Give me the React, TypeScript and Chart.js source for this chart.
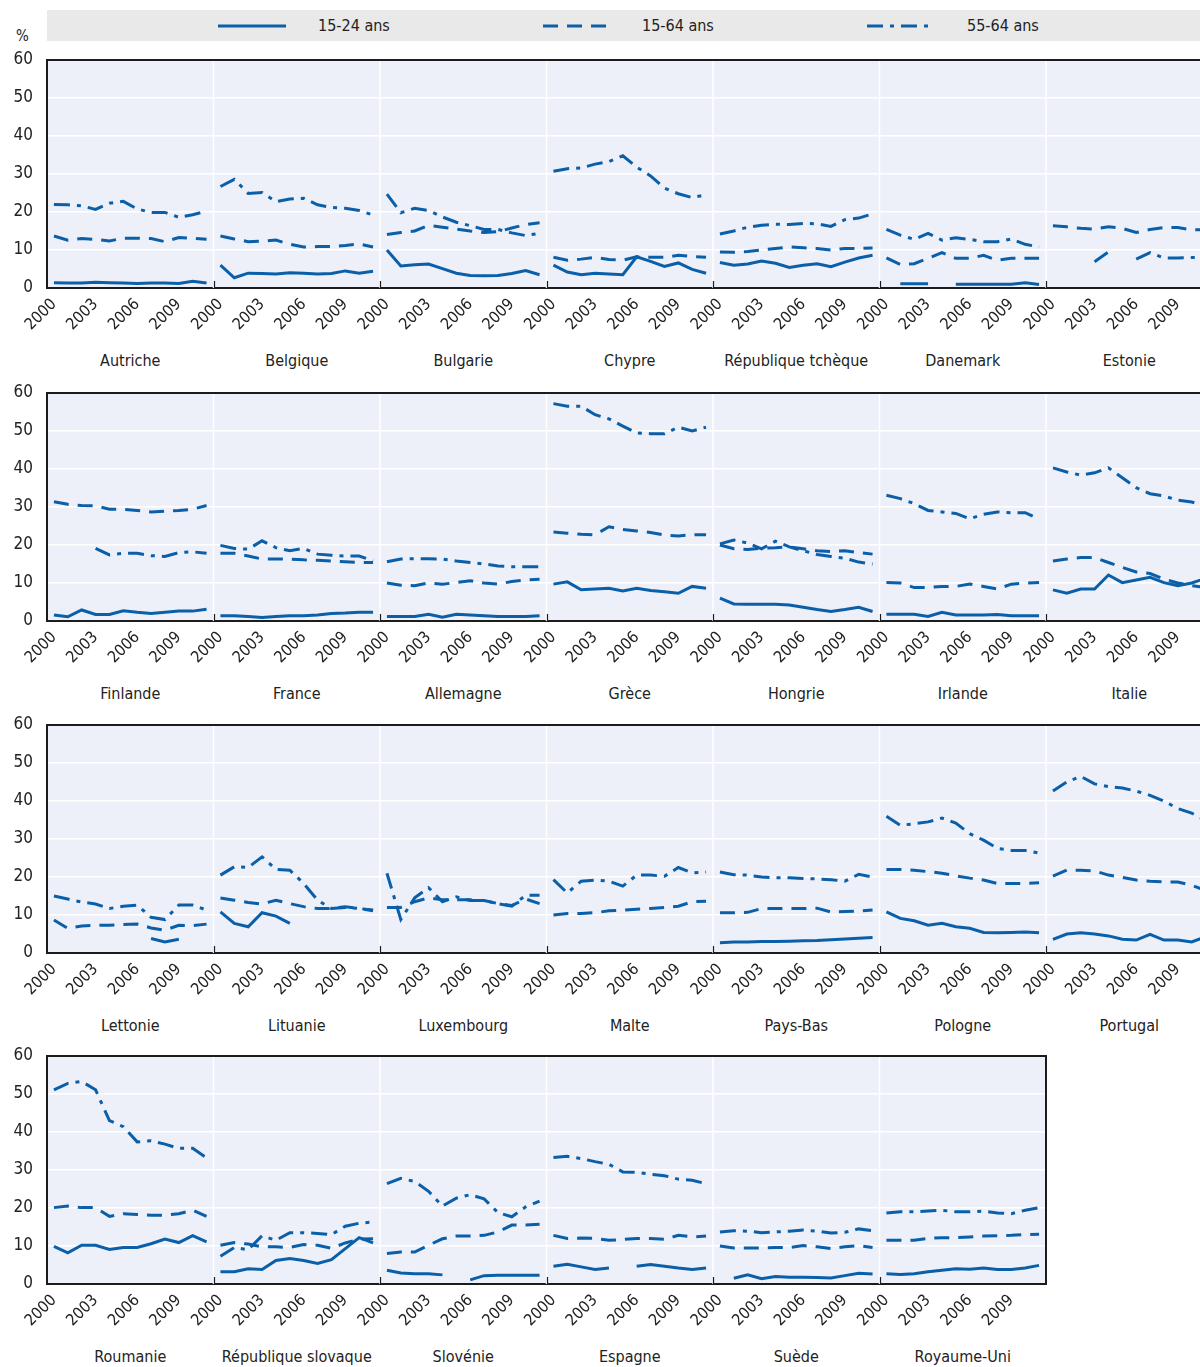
import React, { useEffect, useRef } from "react";
import { Chart, registerables } from "chart.js";

Chart.register(...registerables);

// ---------- data ----------
const YEARS = ["2000", "2001", "2002", "2003", "2004", "2005", "2006", "2007", "2008", "2009", "2010", "2011"];
const TICK_YEARS = ["2000", "2003", "2006", "2009"];
const SERIES_LABELS = ["15-24 ans", "15-64 ans", "55-64 ans"];
const Y_TICKS = [0, 10, 20, 30, 40, 50, 60];
const N = null;

const AUT_1524 = [1.4, 1.3, 1.3, 1.5, 1.4, 1.3, 1.2, 1.3, 1.3, 1.2, 1.8, 1.3];
const AUT_1564 = [13.7, 12.6, 13.0, 12.8, 12.4, 13.1, 13.1, 13.0, 12.2, 13.3, 13.1, 12.8];
const AUT_5564 = [22.0, 21.9, 21.6, 20.7, 22.3, 22.8, 20.8, 19.9, 19.9, 18.6, 19.3, 20.2];

const BEL_1524 = [6.0, 2.7, 3.9, 3.8, 3.7, 4.0, 3.9, 3.7, 3.8, 4.5, 3.9, 4.4];
const BEL_1564 = [13.7, 12.9, 12.2, 12.3, 12.6, 11.5, 10.8, 10.9, 10.9, 11.2, 11.6, 10.8];
const BEL_5564 = [26.7, 28.6, 24.9, 25.1, 22.7, 23.4, 23.6, 21.9, 21.2, 21.0, 20.4, 19.2];

const BGR_1524 = [10.0, 5.8, 6.1, 6.3, 5.1, 3.9, 3.3, 3.2, 3.3, 3.8, 4.6, 3.5];
const BGR_1564 = [14.1, 14.6, 15.0, 16.5, 16.0, 15.5, 15.0, 14.6, 14.8, 15.8, 16.7, 17.2];
const BGR_5564 = [24.7, 19.8, 21.0, 20.4, 18.7, 17.3, 16.4, 15.4, 15.4, 14.5, 13.8, 14.4];

const CYP_1524 = [6.0, 4.2, 3.5, 3.9, 3.7, 3.5, 8.2, 7.0, 5.7, 6.6, 4.9, 3.9];
const CYP_1564 = [8.1, 7.3, 7.6, 8.1, 7.5, 7.3, 8.2, 8.1, 8.1, 8.6, 8.3, 8.1];
const CYP_5564 = [30.7, 31.4, 31.6, 32.6, 33.3, 34.8, 31.8, 29.5, 26.3, 24.8, 23.8, 24.5];

const CZE_1524 = [6.7, 6.0, 6.3, 7.1, 6.5, 5.4, 6.0, 6.4, 5.6, 6.8, 7.9, 8.6];
const CZE_1564 = [9.5, 9.4, 9.6, 10.0, 10.4, 10.8, 10.6, 10.4, 10.0, 10.4, 10.4, 10.5];
const CZE_5564 = [14.2, 15.0, 16.0, 16.5, 16.8, 16.7, 17.0, 16.9, 16.2, 18.0, 18.4, 19.5];

const DNK_1524 = [N, 1.1, 1.1, 1.1, N, 1.0, 1.0, 1.0, 1.0, 1.0, 1.4, 0.9];
const DNK_1564 = [7.9, 6.2, 6.4, 7.8, 9.3, 7.8, 7.8, 8.6, 7.3, 7.8, 7.8, 7.8];
const DNK_5564 = [15.4, 13.9, 12.8, 14.4, 12.6, 13.2, 12.8, 12.2, 12.2, 12.9, 11.5, 10.8];

const EST_1524 = [N, N, N, N, N, N, N, N, N, N, N, N];
const EST_1564 = [16.4, 16.1, 15.7, 15.5, 16.1, 15.7, 14.6, 15.4, 15.9, 15.9, 15.3, 15.3];
const EST_5564 = [N, N, N, 6.9, 9.5, N, 7.6, 9.3, 7.9, 7.9, 8.0, 8.0];

const FIN_1524 = [1.6, 1.1, 2.9, 1.7, 1.7, 2.7, 2.3, 2.0, 2.3, 2.6, 2.6, 3.1];
const FIN_1564 = [31.4, 30.7, 30.4, 30.3, 29.4, 29.4, 29.1, 28.7, 28.9, 29.1, 29.4, 30.4];
const FIN_5564 = [N, N, N, 19.1, 17.4, 17.8, 17.8, 17.2, 17.0, 18.0, 18.2, 17.8];

const FRA_1524 = [1.4, 1.4, 1.2, 0.9, 1.2, 1.4, 1.4, 1.6, 2.0, 2.1, 2.3, 2.3];
const FRA_1564 = [17.8, 17.8, 17.1, 16.3, 16.3, 16.3, 16.1, 16.0, 15.8, 15.6, 15.4, 15.4];
const FRA_5564 = [19.9, 19.1, 18.9, 21.1, 19.3, 18.5, 19.1, 17.6, 17.3, 17.1, 17.1, 15.8];

const DEU_1524 = [1.2, 1.2, 1.2, 1.8, 1.0, 1.8, 1.6, 1.4, 1.2, 1.2, 1.2, 1.4];
const DEU_1564 = [10.0, 9.4, 9.3, 10.0, 9.7, 10.1, 10.6, 10.0, 9.7, 10.4, 10.8, 11.0];
const DEU_5564 = [15.6, 16.3, 16.4, 16.4, 16.3, 15.8, 15.4, 15.0, 14.5, 14.3, 14.3, 14.3];

const GRC_1524 = [9.7, 10.3, 8.2, 8.4, 8.6, 7.9, 8.6, 8.0, 7.7, 7.3, 9.1, 8.6];
const GRC_1564 = [23.4, 23.1, 22.8, 22.7, 24.8, 24.1, 23.7, 23.3, 22.6, 22.4, 22.7, 22.7];
const GRC_5564 = [57.2, 56.5, 56.5, 54.3, 53.2, 51.3, 49.5, 49.3, 49.3, 51.0, 50.0, 51.0];

const HUN_1524 = [6.0, 4.5, 4.4, 4.4, 4.4, 4.2, 3.6, 3.0, 2.5, 3.0, 3.6, 2.5];
const HUN_1564 = [20.0, 19.0, 18.8, 19.2, 19.3, 19.5, 19.0, 18.5, 18.3, 18.5, 18.0, 17.6];
const HUN_5564 = [20.3, 21.3, 20.5, 19.0, 21.0, 19.5, 18.5, 17.5, 17.0, 16.5, 15.5, 15.0];

const IRL_1524 = [1.8, 1.8, 1.8, 1.2, 2.3, 1.6, 1.6, 1.6, 1.7, 1.4, 1.4, 1.4];
const IRL_1564 = [10.1, 10.0, 8.8, 8.8, 9.1, 9.1, 9.7, 9.1, 8.4, 9.7, 10.0, 10.1];
const IRL_5564 = [33.1, 32.2, 30.9, 29.1, 28.7, 28.3, 26.9, 28.1, 28.7, 28.5, 28.5, 26.8];

const ITA_1524 = [8.2, 7.3, 8.4, 8.4, 12.1, 10.1, 10.8, 11.5, 10.1, 9.3, 10.0, 11.2];
const ITA_1564 = [15.8, 16.3, 16.7, 16.7, 15.4, 14.1, 12.9, 12.5, 11.0, 10.0, 9.3, 8.8];
const ITA_5564 = [40.3, 39.2, 38.4, 39.0, 40.3, 37.7, 35.1, 33.5, 32.9, 31.8, 31.3, 30.3];

const LVA_1524 = [N, N, N, N, N, N, N, 3.8, 2.9, 3.6, N, N];
const LVA_1564 = [8.7, 6.5, 7.1, 7.3, 7.3, 7.5, 7.6, 6.6, 6.0, 7.3, 7.2, 7.6];
const LVA_5564 = [15.0, 14.2, 13.4, 12.9, 11.7, 12.3, 12.6, 9.4, 8.8, 12.6, 12.6, 11.3];

const LTU_1524 = [10.8, 7.8, 6.9, 10.6, 9.7, 7.8, N, N, N, N, N, N];
const LTU_1564 = [14.5, 13.9, 13.3, 12.9, 13.9, 13.0, 12.2, 11.7, 11.7, 12.2, 11.7, 11.3];
const LTU_5564 = [20.5, 22.7, 22.5, 25.3, 22.0, 21.8, 18.3, 13.9, 11.7, 12.0, 11.7, 11.1];

const LUX_1524 = [N, N, N, N, N, N, N, N, N, N, N, N];
const LUX_1564 = [12.0, 12.0, 13.5, 14.5, 14.0, 14.0, 14.0, 13.8, 13.0, 12.5, 14.2, 13.0];
const LUX_5564 = [21.0, 8.8, 14.5, 17.2, 13.5, 14.8, 13.8, 13.8, 13.0, 12.3, 15.2, 15.2];

const MLT_1524 = [N, N, N, N, N, N, N, N, N, N, N, N];
const MLT_1564 = [10.0, 10.4, 10.4, 10.6, 11.1, 11.3, 11.5, 11.7, 12.0, 12.3, 13.5, 13.6];
const MLT_5564 = [19.3, 15.8, 18.9, 19.2, 18.9, 17.6, 20.5, 20.5, 20.2, 22.5, 21.1, 21.3];

const NLD_1524 = [2.7, 2.9, 2.9, 3.0, 3.0, 3.1, 3.2, 3.3, 3.5, 3.7, 3.9, 4.1];
const NLD_1564 = [10.6, 10.6, 10.7, 11.7, 11.7, 11.7, 11.7, 11.8, 10.8, 10.9, 11.0, 11.3];
const NLD_5564 = [21.3, 20.6, 20.5, 20.0, 19.8, 19.8, 19.6, 19.5, 19.3, 18.9, 20.7, 20.0];

const POL_1524 = [10.8, 9.1, 8.5, 7.3, 7.8, 6.9, 6.5, 5.4, 5.3, 5.4, 5.5, 5.3];
const POL_1564 = [22.0, 22.0, 21.8, 21.4, 21.0, 20.3, 19.7, 19.2, 18.3, 18.3, 18.3, 18.5];
const POL_5564 = [36.0, 33.6, 34.0, 34.5, 35.5, 34.2, 31.4, 29.7, 27.5, 27.0, 27.0, 26.3];

const PRT_1524 = [3.6, 5.0, 5.3, 5.0, 4.5, 3.6, 3.4, 4.9, 3.4, 3.4, 2.9, 4.3];
const PRT_1564 = [20.2, 21.8, 21.8, 21.6, 20.5, 19.9, 19.2, 18.9, 18.7, 18.7, 17.8, 16.5];
const PRT_5564 = [42.6, 45.0, 46.5, 44.5, 43.8, 43.4, 42.6, 41.5, 40.0, 38.0, 36.8, 34.9];

const ROU_1524 = [9.9, 8.2, 10.2, 10.2, 9.1, 9.6, 9.6, 10.6, 11.8, 10.9, 12.7, 11.1];
const ROU_1564 = [20.1, 20.5, 20.1, 20.1, 17.8, 18.5, 18.3, 18.1, 18.1, 18.5, 19.4, 17.8];
const ROU_5564 = [51.1, 52.8, 53.3, 51.1, 43.0, 41.4, 37.4, 37.7, 36.8, 35.7, 35.7, 33.2];

const SVK_1524 = [3.2, 3.2, 4.0, 3.8, 6.2, 6.7, 6.2, 5.4, 6.4, 9.3, 12.2, 10.8];
const SVK_1564 = [10.2, 10.9, 10.5, 9.8, 9.8, 9.6, 10.4, 10.2, 9.4, 10.8, 11.8, 11.9];
const SVK_5564 = [7.3, 9.6, 9.0, 12.7, 11.5, 13.5, 13.5, 13.3, 13.0, 15.2, 16.0, 16.3];

const SVN_1524 = [3.6, 2.9, 2.7, 2.7, 2.4, N, 1.1, 2.2, 2.3, 2.3, 2.3, 2.3];
const SVN_1564 = [8.0, 8.4, 8.4, 10.2, 11.9, 12.6, 12.6, 12.8, 13.7, 15.5, 15.5, 15.7];
const SVN_5564 = [26.4, 27.8, 27.0, 24.4, 20.5, 22.6, 23.5, 22.4, 18.8, 17.7, 20.3, 21.8];

const ESP_1524 = [4.7, 5.2, 4.5, 3.8, 4.2, N, 4.7, 5.1, 4.7, 4.2, 3.8, 4.2];
const ESP_1564 = [12.8, 12.0, 12.1, 12.0, 11.5, 11.7, 12.0, 12.0, 11.8, 12.8, 12.4, 12.6];
const ESP_5564 = [33.3, 33.6, 33.0, 32.2, 31.5, 29.5, 29.4, 28.9, 28.5, 27.6, 27.3, 26.4];

const SWE_1524 = [N, 1.5, 2.4, 1.4, 2.0, 1.8, 1.8, 1.7, 1.6, 2.2, 2.8, 2.6];
const SWE_1564 = [10.0, 9.5, 9.5, 9.5, 9.6, 9.6, 10.1, 9.8, 9.3, 9.8, 10.1, 9.6];
const SWE_5564 = [13.7, 14.0, 13.9, 13.5, 13.7, 13.9, 14.2, 13.9, 13.4, 13.6, 14.5, 14.0];

const GBR_1524 = [2.7, 2.5, 2.7, 3.2, 3.6, 4.0, 3.9, 4.2, 3.8, 3.8, 4.2, 4.9];
const GBR_1564 = [11.5, 11.5, 11.5, 12.0, 12.2, 12.2, 12.4, 12.6, 12.7, 12.8, 13.0, 13.1];
const GBR_5564 = [18.7, 19.0, 19.0, 19.2, 19.4, 19.0, 19.0, 19.2, 18.7, 18.5, 19.4, 20.1];

type Panel = { name: string; series: (number | null)[][] };

const ROWS: Panel[][] = [
  [
    { name: "Autriche", series: [AUT_1524, AUT_1564, AUT_5564] },
    { name: "Belgique", series: [BEL_1524, BEL_1564, BEL_5564] },
    { name: "Bulgarie", series: [BGR_1524, BGR_1564, BGR_5564] },
    { name: "Chypre", series: [CYP_1524, CYP_1564, CYP_5564] },
    { name: "République tchèque", series: [CZE_1524, CZE_1564, CZE_5564] },
    { name: "Danemark", series: [DNK_1524, DNK_1564, DNK_5564] },
    { name: "Estonie", series: [EST_1524, EST_1564, EST_5564] },
  ],
  [
    { name: "Finlande", series: [FIN_1524, FIN_1564, FIN_5564] },
    { name: "France", series: [FRA_1524, FRA_1564, FRA_5564] },
    { name: "Allemagne", series: [DEU_1524, DEU_1564, DEU_5564] },
    { name: "Grèce", series: [GRC_1524, GRC_1564, GRC_5564] },
    { name: "Hongrie", series: [HUN_1524, HUN_1564, HUN_5564] },
    { name: "Irlande", series: [IRL_1524, IRL_1564, IRL_5564] },
    { name: "Italie", series: [ITA_1524, ITA_1564, ITA_5564] },
  ],
  [
    { name: "Lettonie", series: [LVA_1524, LVA_1564, LVA_5564] },
    { name: "Lituanie", series: [LTU_1524, LTU_1564, LTU_5564] },
    { name: "Luxembourg", series: [LUX_1524, LUX_1564, LUX_5564] },
    { name: "Malte", series: [MLT_1524, MLT_1564, MLT_5564] },
    { name: "Pays-Bas", series: [NLD_1524, NLD_1564, NLD_5564] },
    { name: "Pologne", series: [POL_1524, POL_1564, POL_5564] },
    { name: "Portugal", series: [PRT_1524, PRT_1564, PRT_5564] },
  ],
  [
    { name: "Roumanie", series: [ROU_1524, ROU_1564, ROU_5564] },
    { name: "République slovaque", series: [SVK_1524, SVK_1564, SVK_5564] },
    { name: "Slovénie", series: [SVN_1524, SVN_1564, SVN_5564] },
    { name: "Espagne", series: [ESP_1524, ESP_1564, ESP_5564] },
    { name: "Suède", series: [SWE_1524, SWE_1564, SWE_5564] },
    { name: "Royaume-Uni", series: [GBR_1524, GBR_1564, GBR_5564] },
  ],
];

// ---------- styling ----------
const FONT_FAMILY = '"DejaVu Sans Condensed", "Liberation Sans", Arial, sans-serif';
const LINE_COLOR = "#0a5fa8";
const PLOT_BG = "#edf0f9";
const FRAME = "#1c1c1c";
const TEXT = "#222222";
const DASHES = [[], [15, 9], [16, 7, 4, 7]];

const ROW_TOPS = [60, 393, 725, 1056];
const PLOT_H = 228;
const Y_TICK_PAD = 14;
const Y_LINE_H = 22;
const PAD_TOP = Y_LINE_H / 2 + Y_TICK_PAD; // chart.js reserves half label + tick padding above the plot
const XAXIS_H = 62;
const LEFT = 47;
const PANEL_W = 166.5;
const VIEW_W = 1200;
const NY = YEARS.length;

function RowChart({ panels, plotTop }: { panels: Panel[]; plotTop: number }) {
  const ref = useRef<HTMLCanvasElement>(null);

  useEffect(() => {
    if (!ref.current) return;
    const n = panels.length;
    const fullRight = LEFT + n * PANEL_W;
    const rightEdge = Math.min(VIEW_W, fullRight);
    const closed = fullRight <= VIEW_W;
    const padRight = VIEW_W - rightEdge;
    const xMax = ((rightEdge - LEFT) / PANEL_W) * NY;

    const datasets = SERIES_LABELS.map((label, s) => {
      const data: { x: number; y: number | null }[] = [];
      panels.forEach((p, pi) => {
        p.series[s].forEach((v, i) => data.push({ x: pi * NY + i + 0.5, y: v }));
        data.push({ x: pi * NY + NY, y: null });
      });
      return {
        label,
        data,
        borderColor: LINE_COLOR,
        backgroundColor: LINE_COLOR,
        borderWidth: 3,
        borderDash: DASHES[s],
        pointRadius: 0,
        spanGaps: false,
        fill: false,
        tension: 0,
      };
    });

    const tickValues: number[] = [];
    panels.forEach((_, pi) =>
      TICK_YEARS.forEach((ty) => {
        const v = pi * NY + YEARS.indexOf(ty) + 0.5;
        if (v < xMax) tickValues.push(v);
      })
    );

    const framePlugin = {
      id: "framePlugin",
      beforeDraw(chart: any) {
        const { ctx, chartArea: a } = chart;
        ctx.save();
        ctx.fillStyle = PLOT_BG;
        ctx.fillRect(a.left, a.top, a.right - a.left, a.bottom - a.top);
        ctx.restore();
      },
      beforeDatasetsDraw(chart: any) {
        const { ctx, chartArea: a, scales } = chart;
        ctx.save();
        ctx.strokeStyle = "#ffffff";
        ctx.lineWidth = 1.5;
        for (let p = 1; p < n; p++) {
          const px = scales.x.getPixelForValue(p * NY);
          if (px >= a.right) continue;
          ctx.beginPath();
          ctx.moveTo(px, a.top);
          ctx.lineTo(px, a.bottom);
          ctx.stroke();
        }
        ctx.restore();
      },
      afterDraw(chart: any) {
        const { ctx, chartArea: a, scales } = chart;
        ctx.save();
        ctx.strokeStyle = FRAME;
        ctx.lineWidth = 2;
        ctx.beginPath();
        ctx.moveTo(a.left - 1, a.top);
        ctx.lineTo(a.right + 1, a.top);
        ctx.stroke();
        if (closed) {
          ctx.beginPath();
          ctx.moveTo(a.right, a.top);
          ctx.lineTo(a.right, a.bottom + 1);
          ctx.stroke();
        }
        ctx.lineWidth = 1.2;
        for (let p = 1; p < n; p++) {
          const px = Math.round(scales.x.getPixelForValue(p * NY)) + 0.5;
          if (px >= a.right) continue;
          ctx.beginPath();
          ctx.moveTo(px, a.bottom);
          ctx.lineTo(px, a.bottom - 7);
          ctx.stroke();
        }
        ctx.restore();
      },
    };

    const chart = new Chart(ref.current, {
      type: "line",
      data: { datasets: datasets as any },
      plugins: [framePlugin],
      options: {
        animation: false,
        responsive: false,
        maintainAspectRatio: false,
        events: [],
        layout: { padding: { top: 0, right: padRight, left: 0, bottom: 0 } },
        plugins: { legend: { display: false }, tooltip: { enabled: false } },
        scales: {
          x: {
            type: "linear",
            min: 0,
            max: xMax,
            afterBuildTicks: (scale: any) => {
              scale.ticks = tickValues.map((v) => ({ value: v }));
            },
            afterFit: (scale: any) => {
              scale.height = XAXIS_H;
            },
            ticks: {
              autoSkip: false,
              maxRotation: 45,
              minRotation: 45,
              padding: 7,
              color: TEXT,
              font: { family: FONT_FAMILY, size: 16 },
              callback: (v: any) => YEARS[Math.round(Number(v) - 0.5) % NY],
            },
            grid: { display: false, drawTicks: false },
            border: { display: true, color: FRAME, width: 2 },
          },
          y: {
            min: 0,
            max: 60,
            afterBuildTicks: (scale: any) => {
              scale.ticks = Y_TICKS.map((v) => ({ value: v }));
            },
            afterFit: (scale: any) => {
              scale.width = LEFT;
            },
            ticks: {
              padding: Y_TICK_PAD,
              color: TEXT,
              font: { family: FONT_FAMILY, size: 17, lineHeight: `${Y_LINE_H}px` },
            },
            grid: { color: "#ffffff", lineWidth: 1.5, drawTicks: false },
            border: { display: true, color: FRAME, width: 2 },
          },
        },
      } as any,
    });
    return () => chart.destroy();
  }, [panels, plotTop]);

  const h = PAD_TOP + PLOT_H + XAXIS_H;
  return (
    <canvas
      ref={ref}
      width={VIEW_W}
      height={h}
      style={{ position: "absolute", left: 0, top: plotTop - PAD_TOP, width: VIEW_W, height: h }}
    />
  );
}

function LegendSample({ dash }: { dash: number[] }) {
  return (
    <svg width={68} height={8} style={{ display: "block" }}>
      <line
        x1={0}
        y1={4}
        x2={68}
        y2={4}
        stroke={LINE_COLOR}
        strokeWidth={3}
        strokeDasharray={dash.length ? dash.join(" ") : undefined}
      />
    </svg>
  );
}

const LEGEND_POS = [
  { line: 218, text: 318 },
  { line: 543, text: 642 },
  { line: 867, text: 967 },
];

export default function App() {
  const textStyle: React.CSSProperties = {
    position: "absolute",
    fontFamily: FONT_FAMILY,
    fontSize: 16,
    color: TEXT,
    whiteSpace: "nowrap",
    lineHeight: "20px",
  };
  return (
    <div
      style={{
        position: "absolute",
        left: 0,
        top: 0,
        width: VIEW_W,
        height: 1367,
        overflow: "hidden",
        background: "#ffffff",
      }}
    >
      <div
        style={{ position: "absolute", left: LEFT, top: 10, width: VIEW_W - LEFT, height: 31, background: "#e9e9e9" }}
      >
        {SERIES_LABELS.map((lab, s) => (
          <React.Fragment key={lab}>
            <div style={{ position: "absolute", left: LEGEND_POS[s].line - LEFT, top: 12 }}>
              <LegendSample dash={DASHES[s]} />
            </div>
            <div style={{ ...textStyle, left: LEGEND_POS[s].text - LEFT, top: 6 }}>{lab}</div>
          </React.Fragment>
        ))}
      </div>
      <div style={{ ...textStyle, left: 16, top: 26, fontSize: 15 }}>%</div>
      {ROWS.map((panels, r) => (
        <React.Fragment key={r}>
          <RowChart panels={panels} plotTop={ROW_TOPS[r]} />
          {panels.map((p, pi) => (
            <div
              key={p.name}
              style={{
                ...textStyle,
                left: LEFT + pi * PANEL_W,
                width: PANEL_W,
                textAlign: "center",
                top: ROW_TOPS[r] + 291,
              }}
            >
              {p.name}
            </div>
          ))}
        </React.Fragment>
      ))}
    </div>
  );
}
